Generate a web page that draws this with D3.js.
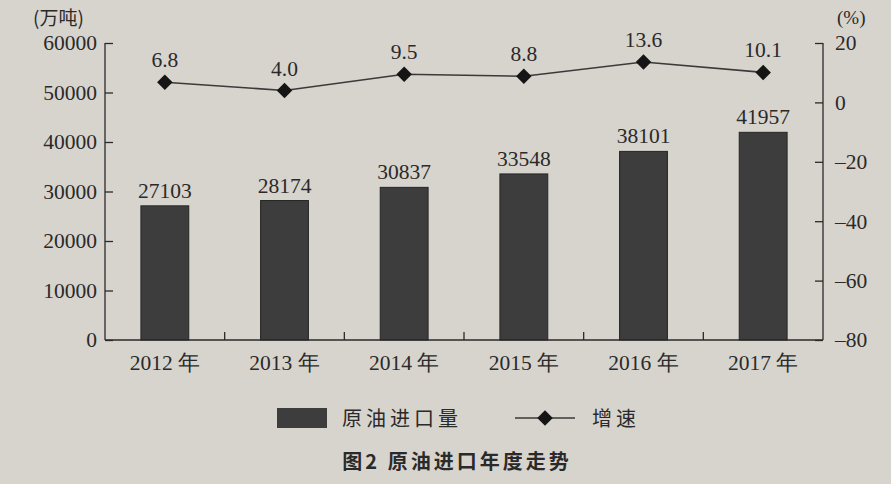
<!DOCTYPE html>
<html><head><meta charset="utf-8">
<script src="https://cdn.jsdelivr.net/npm/d3@7"></script>
<style>
html,body{margin:0;padding:0;background:#d7d4ce;}
svg{display:block;}
</style></head><body>
<svg id="c" width="891" height="484"></svg>
<script>
const years = ["2012 年","2013 年","2014 年","2015 年","2016 年","2017 年"];
const imports = [27103, 28174, 30837, 33548, 38101, 41957];
const growth = [6.8, 4.0, 9.5, 8.8, 13.6, 10.1];
const leftTicks = [0,10000,20000,30000,40000,50000,60000];
const rightTicks = [-80,-60,-40,-20,0,20];

const svg = d3.select("#c");
const serif = "'Liberation Serif','DejaVu Serif',serif";
const cjk = "'Noto Sans CJK SC',sans-serif";
const ink = "#2a2a2a";
const L = 105, R = 823, T = 43, B = 340;
const fs = 21.5;

const x = d3.scaleBand().domain(years).range([L, R]).paddingInner(0.6).paddingOuter(0.3);
const yL = d3.scaleLinear().domain([0, 60000]).range([B, T]);
const yR = d3.scaleLinear().domain([-80, 20]).range([B, T]);

// bars
svg.append("g").selectAll("rect").data(imports).join("rect")
  .attr("x", (d,i)=>x(years[i])).attr("width", x.bandwidth())
  .attr("y", d=>yL(d)).attr("height", d=>B-yL(d))
  .attr("fill", "#3d3d3d").attr("stroke","#262626").attr("stroke-width",1);

svg.append("g").selectAll("text").data(imports).join("text")
  .attr("x",(d,i)=>x(years[i])+x.bandwidth()/2).attr("y", d=>yL(d)-8)
  .attr("text-anchor","middle").attr("font-family",serif).attr("font-size",fs).attr("fill",ink)
  .text(d=>d);

// left axis
const gl = svg.append("g").attr("transform",`translate(${L},0)`)
  .call(d3.axisLeft(yL).tickValues(leftTicks).tickSize(-8).tickPadding(8).tickFormat(d=>d));
gl.select(".domain").attr("stroke",ink).attr("stroke-width",1.3).attr("d",`M0,${T}V${B}`);
gl.selectAll(".tick line").attr("stroke",ink).attr("stroke-width",1.3);
gl.selectAll("text").attr("font-family",serif).attr("font-size",fs).attr("fill",ink).attr("dx",0);

// right axis
const gr = svg.append("g").attr("transform",`translate(${R},0)`)
  .call(d3.axisRight(yR).tickValues(rightTicks).tickSize(-8).tickPadding(8)
    .tickFormat(d=> d<0 ? "\u2013"+Math.abs(d) : d));
gr.select(".domain").attr("stroke",ink).attr("stroke-width",1.3).attr("d",`M0,${T}V${B}`);
gr.selectAll(".tick line").attr("stroke",ink).attr("stroke-width",1.3);
gr.selectAll("text").attr("font-family",serif).attr("font-size",fs).attr("fill",ink).attr("dx",4);

// x axis
const gx = svg.append("g").attr("transform",`translate(0,${B})`)
  .call(d3.axisBottom(x).tickSize(0).tickPadding(12));
gx.select(".domain").attr("stroke",ink).attr("stroke-width",1.3).attr("d",`M${L},0H${R}`);
gx.selectAll("text").attr("font-family",serif).attr("font-size",fs).attr("fill",ink).attr("dy","0.85em");
// between-category ticks
const step = x.step();
const bounds = years.slice(1).map((d)=>x(d) - (step - x.bandwidth())/2);
svg.append("g").selectAll("line").data(bounds).join("line")
  .attr("x1",d=>d).attr("x2",d=>d).attr("y1",B).attr("y2",B-8)
  .attr("stroke",ink).attr("stroke-width",1.3);

// line
const line = d3.line().x((d,i)=>x(years[i])+x.bandwidth()/2).y(d=>yR(d));
svg.append("path").datum(growth).attr("d",line).attr("fill","none").attr("stroke","#3a3a3a").attr("stroke-width",1.6);
svg.append("g").selectAll("path").data(growth).join("path")
  .attr("transform",(d,i)=>`translate(${x(years[i])+x.bandwidth()/2},${yR(d)}) rotate(45)`)
  .attr("d", d3.symbol().type(d3.symbolSquare).size(120)).attr("fill","#151515");
svg.append("g").selectAll("text").data(growth).join("text")
  .attr("x",(d,i)=>x(years[i])+x.bandwidth()/2).attr("y",d=>yR(d)-15)
  .attr("text-anchor","middle").attr("font-family",serif).attr("font-size",fs).attr("fill",ink)
  .text(d=>d.toFixed(1));

// unit labels
svg.append("text").attr("x",33).attr("y",25).attr("font-family",cjk).attr("font-size",19).attr("fill",ink).text("(万吨)");
svg.append("text").attr("x",837).attr("y",24).attr("font-family",serif).attr("font-size",19).attr("fill",ink).text("(%)");

// legend
svg.append("rect").attr("x",277).attr("y",408).attr("width",50).attr("height",20).attr("fill","#3d3d3d");
svg.append("text").attr("x",342).attr("y",426).attr("font-family",cjk).attr("font-size",20).attr("letter-spacing",4).attr("fill",ink).text("原油进口量");
svg.append("line").attr("x1",515).attr("x2",575).attr("y1",418).attr("y2",418).attr("stroke","#3a3a3a").attr("stroke-width",1.6);
svg.append("path").attr("transform","translate(545,418) rotate(45)").attr("d", d3.symbol().type(d3.symbolSquare).size(120)).attr("fill","#151515");
svg.append("text").attr("x",592).attr("y",426).attr("font-family",cjk).attr("font-size",20).attr("letter-spacing",4).attr("fill",ink).text("增速");

// title
svg.append("text").attr("x",457).attr("y",469).attr("text-anchor","middle").attr("font-family",cjk).attr("font-weight","bold").attr("font-size",20).attr("letter-spacing",3).attr("fill",ink).text("图2  原油进口年度走势");
</script>
</body></html>
